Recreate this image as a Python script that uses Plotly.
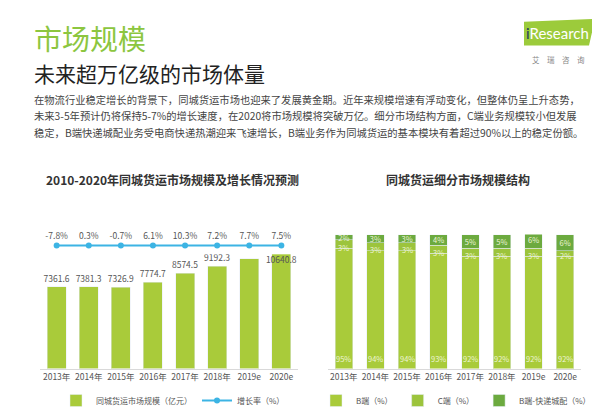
import plotly.graph_objects as go

W, H = 600, 407

years = ["2013年", "2014年", "2015年", "2016年", "2017年", "2018年", "2019e", "2020e"]
market_size = [7361.6, 7381.3, 7326.9, 7774.7, 8574.5, 9192.3, 9898.1, 10640.8]
growth_rate = [-7.8, 0.3, -0.7, 6.1, 10.3, 7.2, 7.7, 7.5]

b_share = [95, 94, 94, 93, 92, 92, 92, 92]
c_share = [3, 3, 3, 3, 3, 3, 3, 2]
b_express_share = [2, 3, 3, 4, 5, 5, 6, 6]

title_text = "市场规模"
subtitle_text = "未来超万亿级的市场体量"
paragraph_lines = [
    "在物流行业稳定增长的背景下，同城货运市场也迎来了发展黄金期。近年来规模增速有浮动变化，但整体仍呈上升态势，",
    "未来3-5年预计仍将保持5-7%的增长速度，在2020将市场规模将突破万亿。细分市场结构方面，C端业务规模较小但发展",
    "稳定，B端快递城配业务受电商快递热潮迎来飞速增长，B端业务作为同城货运的基本模块有着超过90%以上的稳定份额。",
]
left_title = "2010-2020年同城货运市场规模及增长情况预测"
right_title = "同城货运细分市场规模结构"

FONT = "Noto Sans CJK SC"
BAR_GREEN = "#a9cb3a"
C_GREEN = "#9cc43c"
DARK_GREEN = "#6caa3f"
LINE_BLUE = "#3cb4e4"
GRAY = "#555555"
SEG_TEXT = "#eef5d6"


def px_x(x):
    return x / W


def px_y(y):
    return 1 - y / H


fig = go.Figure()

# Left chart: market size bars
fig.add_trace(go.Bar(
    x=years, y=market_size, xaxis="x", yaxis="y",
    name="同城货运市场规模（亿元）", marker_color=BAR_GREEN, width=0.59,
    text=[f"{v:.1f}" for v in market_size],
    textposition=["outside"] * 7 + ["inside"],
    insidetextanchor="end", textangle=0,
    textfont=dict(size=8.5, color=GRAY, family=FONT),
    outsidetextfont=dict(size=8.5, color=GRAY, family=FONT),
    insidetextfont=dict(size=8.5, color=GRAY, family=FONT),
    constraintext="none", cliponaxis=False, legend="legend",
))
# Left chart: growth-rate line
fig.add_trace(go.Scatter(
    x=years, y=["增长率"] * len(years), xaxis="x", yaxis="y3",
    name="增长率（%）", mode="lines+markers+text",
    line=dict(color=LINE_BLUE, width=2), marker=dict(color=LINE_BLUE, size=6),
    text=[f"{v:.1f}%" for v in growth_rate], textposition="top center",
    textfont=dict(size=8.5, color=GRAY, family=FONT), cliponaxis=False,
    legend="legend",
))

# Right chart: stacked shares
for vals, name, col in [
    (b_share, "B端（%）", BAR_GREEN),
    (c_share, "C端（%）", C_GREEN),
    (b_express_share, "B端-快递城配（%）", DARK_GREEN),
]:
    is_top = name == "B端-快递城配（%）"
    fig.add_trace(go.Bar(
        x=years, y=vals, xaxis="x2", yaxis="y2", name=name,
        marker_color=col, width=0.55,
        text=[f"{v}%" for v in vals] if is_top else None,
        textposition="inside" if is_top else "none",
        insidetextanchor="middle", textangle=0,
        textfont=dict(size=7.5, color=SEG_TEXT, family=FONT),
        constraintext="none", legend="legend2",
    ))

legend_common = dict(orientation="h", yanchor="top",
                     font=dict(size=8, color=GRAY, family=FONT),
                     itemwidth=30, traceorder="normal", bgcolor="rgba(0,0,0,0)")

fig.update_layout(
    width=W, height=H, margin=dict(l=0, r=0, t=0, b=0),
    paper_bgcolor="white", plot_bgcolor="white",
    barmode="stack", font=dict(family=FONT, color=GRAY),
    xaxis=dict(domain=[px_x(32), px_x(290)], anchor="y", showline=True,
               linecolor="#d9d9d9", linewidth=1, ticks="", showgrid=False,
               tickfont=dict(size=8.5, color=GRAY)),
    yaxis=dict(domain=[px_y(366), px_y(246)], range=[0, max(market_size)],
               visible=False),
    yaxis3=dict(domain=[px_y(250), px_y(232)], anchor="x", visible=False,
                type="category"),
    xaxis2=dict(domain=[px_x(320), px_x(573)], anchor="y2", showline=True,
                linecolor="#d9d9d9", linewidth=1, ticks="", showgrid=False,
                tickfont=dict(size=8.5, color=GRAY)),
    yaxis2=dict(domain=[px_y(366), px_y(230)], range=[50, 100], visible=False),
    legend=dict(x=px_x(165), y=px_y(384), xanchor="center", **legend_common),
    legend2=dict(x=px_x(588), y=px_y(384), xanchor="right", **legend_common),
    showlegend=True,
)

ann = [
    dict(text=title_text, x=px_x(24), y=px_y(30), xanchor="left", yanchor="middle",
         font=dict(size=28, color="#8cc63f", family=FONT)),
    dict(text=subtitle_text, x=px_x(24), y=px_y(66), xanchor="left", yanchor="middle",
         font=dict(size=21, color="#222222", family=FONT)),
    dict(text="<b>" + left_title + "</b>", x=px_x(164), y=px_y(174), xanchor="center",
         yanchor="middle", font=dict(size=12, color="#333333", family=FONT)),
    dict(text="<b>" + right_title + "</b>", x=px_x(450), y=px_y(174), xanchor="center",
         yanchor="middle", font=dict(size=12, color="#333333", family=FONT)),
    dict(text="<span style='color:#1f3a5f'>i</span>Research", x=px_x(549), y=px_y(25),
         xanchor="center", yanchor="middle",
         font=dict(size=15, color="white", family="Lato")),
    dict(text="艾　瑞　咨　询", x=px_x(550), y=px_y(52), xanchor="center", yanchor="middle",
         font=dict(size=7.5, color="#888888", family=FONT)),
]
for i, line in enumerate(paragraph_lines):
    ann.append(dict(text=line, x=px_x(24), y=px_y(93 + 16.5 * i), xanchor="left",
                    yanchor="middle", font=dict(size=10.3, color="#444444", family=FONT)))
for a in ann:
    a.update(xref="paper", yref="paper", showarrow=False)

# B-share labels at the bottom of each stacked bar; C-share labels at the B/C boundary
for yr, b, c in zip(years, b_share, c_share):
    ann.append(dict(text=f"{b}%", x=yr, y=50, xref="x2", yref="y2", showarrow=False,
                    yanchor="bottom", yshift=3,
                    font=dict(size=7.5, color=SEG_TEXT, family=FONT)))
    ann.append(dict(text=f"{c}%", x=yr, y=b, xref="x2", yref="y2", showarrow=False,
                    yanchor="middle", yshift=1,
                    font=dict(size=7.5, color=SEG_TEXT, family=FONT)))
fig.update_layout(annotations=ann)

fig.add_shape(type="path", xref="paper", yref="paper",
              path=f"M {px_x(516)},{px_y(14)} L {px_x(587)},{px_y(11)} L {px_x(581)},{px_y(38)} L {px_x(516)},{px_y(38)} Z",
              fillcolor="#9ccb3b", line=dict(width=0), layer="below")

fig.write_html("out.html")
